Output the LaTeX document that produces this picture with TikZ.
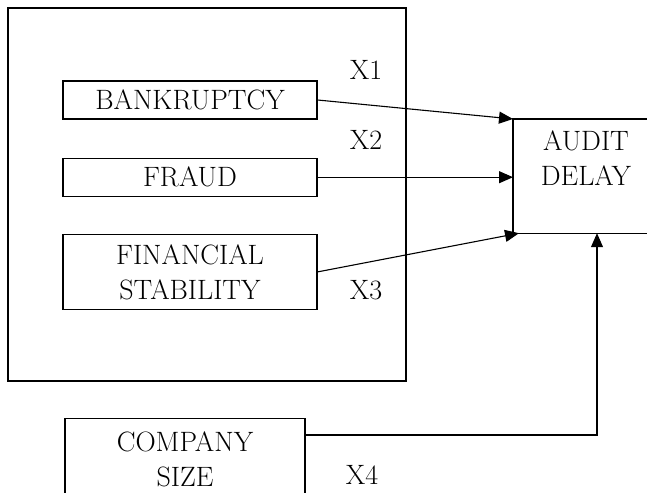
\documentclass[tikz,border=0pt]{standalone}
\usetikzlibrary{positioning,arrows.meta}

\begin{document}
\begin{tikzpicture}[x=1pt, y=-1pt, node distance=38pt,
    font=\fontsize{28}{35}\selectfont, line width=1.2pt,
    factor/.style={draw, rectangle, minimum width=254pt, inner sep=0pt, align=center},
    arr/.style={-{Triangle[length=14pt,width=12pt]}, line width=1.1pt}]
    \useasboundingbox (0,0) rectangle (647,492);
            \node[draw, rectangle, minimum width=398pt, minimum height=373pt] (frame) at (207,194.5) {};
            \node[factor, minimum height=38pt] (bank) at (190,100) {BANKRUPTCY};
            \node[factor, minimum height=38pt, below=of bank] (fraud) {FRAUD};
            \node[factor, minimum height=75pt, below=37pt of fraud] (fin) {FINANCIAL\\STABILITY};
            \node[factor, minimum width=240pt, minimum height=82pt, anchor=north] (size) at (185,418) {COMPANY\\SIZE};
            \node[rectangle, minimum width=150pt, minimum height=113pt, anchor=north west] (audit) at (513,119) {};
            \node[align=center] (auditlbl) at (586,158) {AUDIT\\DELAY};

            \node (x1) at (366,70) {X1};
            \node (x2) at (366,140) {X2};
            \node (x3) at (366,290) {X3};
            \node (x4) at (362,475) {X4};
            \coordinate (bend) at (597,435);

            \draw (audit.north east) -- (audit.north west) -- (audit.south west) -- (audit.south east);
            \draw[arr] (bank.east) -- (audit.north west);
            \draw[arr] (fraud.east) -- (fraud.east -| audit.west);
            \draw[arr] (fin.east) -- ([xshift=6pt]audit.south west);
            \draw[arr] (size.east |- bend) -- (bend) -- (bend |- audit.south);
\end{tikzpicture}
\end{document}
